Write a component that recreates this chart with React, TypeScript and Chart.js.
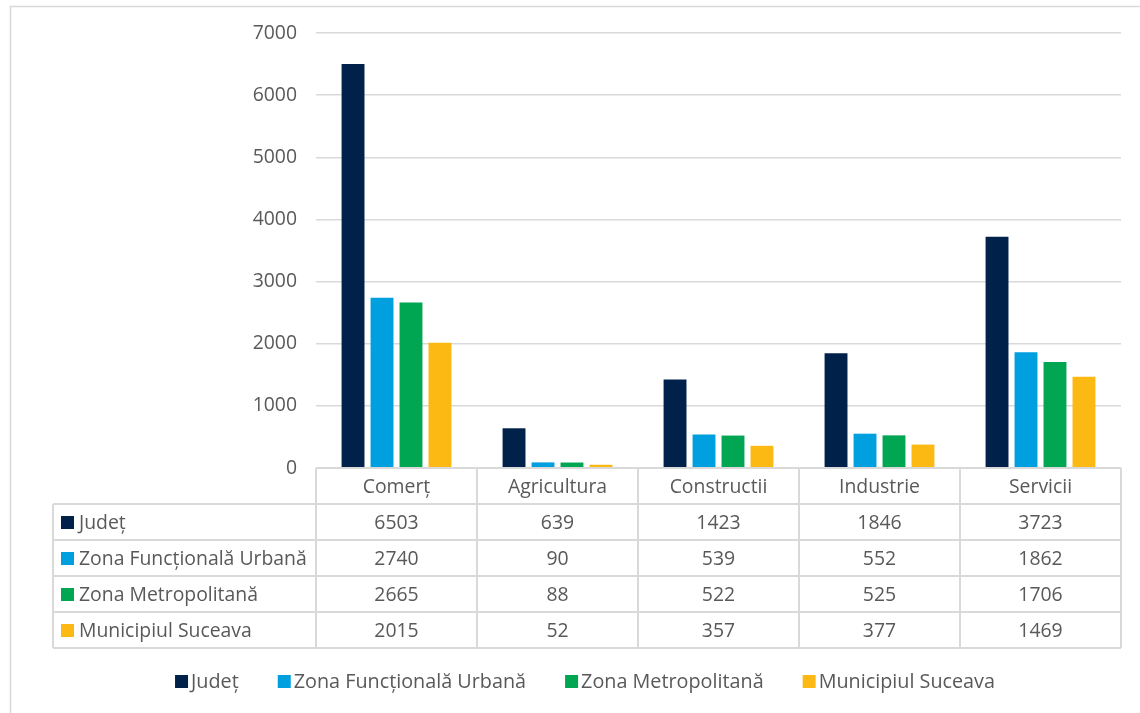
import React, { useEffect, useRef } from "react";
import { Chart, registerables } from "chart.js";

Chart.register(...registerables);

const categories = ["Comerț", "Agricultura", "Constructii", "Industrie", "Servicii"];
const seriesNames = ["Județ", "Zona Funcțională Urbană", "Zona Metropolitană", "Municipiul Suceava"];
const judet = [6503, 639, 1423, 1846, 3723];
const zonaFunctionala = [2740, 90, 539, 552, 1862];
const zonaMetropolitana = [2665, 88, 522, 525, 1706];
const municipiul = [2015, 52, 357, 377, 1469];
const colors = ["#00214A", "#009FDF", "#00A651", "#FDB913"];
const yTicks = [0, 1000, 2000, 3000, 4000, 5000, 6000, 7000];

const FONT = "'Open Sans', sans-serif";
const TEXT = "#595959";
const LINE = "#D9D9D9";

const tablePlugin = {
  id: "dataTable",
  afterDraw(chart: any) {
    const ctx = chart.ctx;
    const area = chart.chartArea;
    const x = chart.scales.x;
    const n = chart.data.labels.length;
    const colW = (area.right - area.left) / n;
    const top = area.bottom;
    const rowH = 36;
    const rows = chart.data.datasets.length;
    const bottom = top + rowH * (rows + 1);
    const leftCol = 53;
    ctx.save();
    // outer frame
    ctx.strokeStyle = LINE;
    ctx.lineWidth = 1.5;
    ctx.beginPath();
    ctx.moveTo(10.5, chart.height);
    ctx.lineTo(10.5, 6.5);
    ctx.lineTo(chart.width, 6.5);
    ctx.stroke();

    ctx.lineWidth = 2;
    ctx.beginPath();
    ctx.moveTo(area.left, top);
    ctx.lineTo(area.right, top);
    for (let r = 1; r <= rows + 1; r++) {
      ctx.moveTo(leftCol, top + r * rowH);
      ctx.lineTo(area.right, top + r * rowH);
    }
    ctx.moveTo(leftCol, top + rowH);
    ctx.lineTo(leftCol, bottom);
    for (let c = 0; c <= n; c++) {
      const xx = area.left + c * colW;
      ctx.moveTo(xx, top);
      ctx.lineTo(xx, bottom);
    }
    ctx.stroke();

    ctx.font = `19.4px ${FONT}`;
    ctx.fillStyle = TEXT;
    ctx.textBaseline = "middle";
    ctx.textAlign = "center";
    chart.data.labels.forEach((lab: string, i: number) => {
      const cx = x.getPixelForValue(i);
      ctx.fillText(lab, cx, top + rowH / 2 + 1);
    });
    chart.data.datasets.forEach((ds: any, r: number) => {
      const cy = top + (r + 1.5) * rowH + 1;
      ctx.textAlign = "center";
      ctx.fillStyle = TEXT;
      ds.data.forEach((v: number, i: number) => {
        ctx.fillText(String(v), x.getPixelForValue(i), cy);
      });
      ctx.fillStyle = ds.backgroundColor;
      ctx.fillRect(61, cy - 7, 13, 13);
      ctx.fillStyle = TEXT;
      ctx.textAlign = "left";
      ctx.fillText(ds.label, 79, cy);
    });

    // legend
    ctx.font = `19.8px ${FONT}`;
    const ly = 682;
    const gap = 39;
    const widths = chart.data.datasets.map((ds: any) => 16 + ctx.measureText(ds.label).width);
    const total = widths.reduce((a: number, b: number) => a + b, 0) + gap * (widths.length - 1);
    let lx = (chart.width - total) / 2 + 15;
    chart.data.datasets.forEach((ds: any, i: number) => {
      ctx.fillStyle = ds.backgroundColor;
      ctx.fillRect(lx, ly - 7, 13, 13);
      ctx.fillStyle = TEXT;
      ctx.textAlign = "left";
      ctx.fillText(ds.label, lx + 16, ly);
      lx += widths[i] + gap;
    });
    ctx.restore();
  },
};

export default function App() {
  const ref = useRef<HTMLCanvasElement>(null);
  useEffect(() => {
    document.body.style.margin = "0";
    const seriesValues = [judet, zonaFunctionala, zonaMetropolitana, municipiul];
    const chart = new Chart(ref.current!, {
      type: "bar",
      data: {
        labels: categories,
        datasets: seriesNames.map((name, i) => ({
          label: name,
          data: seriesValues[i],
          backgroundColor: colors[i],
          categoryPercentage: 0.72,
          barPercentage: 0.79,
        })),
      },
      options: {
        animation: false,
        responsive: false,
        maintainAspectRatio: false,
        layout: { padding: { top: 33, right: 19, bottom: 65, left: 0 } },
        plugins: { legend: { display: false }, tooltip: { enabled: false } },
        scales: {
          x: {
            grid: { display: false },
            border: { display: false },
            ticks: { display: false },
            afterFit: (s: any) => {
              s.height = 180;
            },
          },
          y: {
            min: 0,
            max: 7000,
            afterBuildTicks: (s: any) => {
              s.ticks = yTicks.map((v) => ({ value: v }));
            },
            grid: { color: LINE, lineWidth: 1.5, drawTicks: false },
            border: { display: false },
            ticks: {
              padding: 19,
              color: TEXT,
              font: { family: FONT, size: 19.4 },
              callback: (v: any) => String(v),
            },
            afterFit: (s: any) => {
              s.width = 316;
            },
          },
        },
      },
      plugins: [tablePlugin],
    });
    return () => chart.destroy();
  }, []);
  return <canvas ref={ref} width={1140} height={713} style={{ display: "block" }} />;
}
